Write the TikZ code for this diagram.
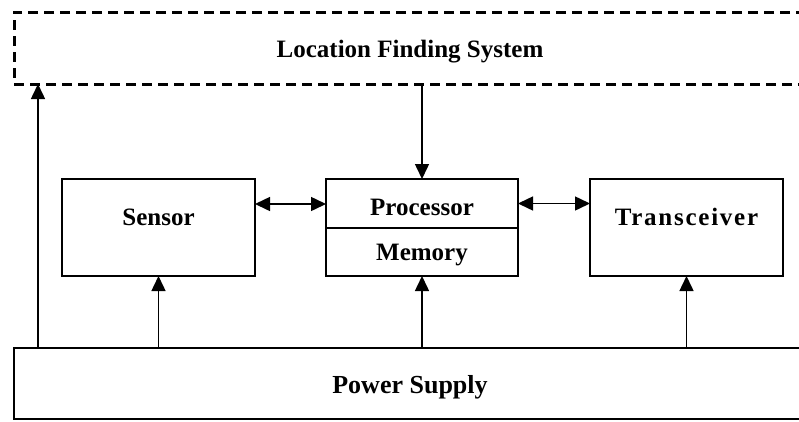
\documentclass[tikz,border=0pt]{standalone}
\usepackage{fontspec}
\setmainfont{Liberation Serif}
\usetikzlibrary{arrows.meta,calc}
\begin{document}
\begin{tikzpicture}[x=1pt,y=-1pt,
 box/.style={draw,line width=1.8pt,minimum width=193pt,minimum height=97pt,inner sep=0pt,outer sep=0pt},
 lbl/.style={font=\fontsize{25}{30}\selectfont\bfseries,inner sep=0pt,anchor=base},
 arr/.style={-{Triangle[length=15pt,width=14pt]},line width=1.5pt},
 darr/.style={{Triangle[length=15pt,width=14pt]}-{Triangle[length=15pt,width=14pt]},line width=1.5pt}]
\clip (0,0) rectangle (799,421);
\node[draw,dash pattern=on 10pt off 6pt,line width=3pt,minimum width=792pt,minimum height=72pt,inner sep=0pt,outer sep=0pt] (lfs) at (410,48) {};
\node[box] (sensor) at (158.5,227.5) {};
\node[box,minimum width=192pt,minimum height=49pt] (proc) at (422,203.5) {};
\node[box,minimum width=192pt,minimum height=48pt] (mem) at (422,252) {};
\node[box] (trans) at (686.5,227.5) {};
\node[box,minimum width=792pt,minimum height=71pt] (ps) at (410,383.5) {};
\node[lbl] at ($(lfs.north)+(0,45)$) {Location Finding System};
\node[lbl] at ($(sensor.north)+(0,46)$) {Sensor};
\node[lbl] at ($(proc.north)+(0,36)$) {Processor};
\node[lbl] at ($(mem.north)+(0,32)$) {Memory};
\node[lbl] at ($(trans.north)+(0,46)$) {\addfontfeatures{LetterSpace=7}Transceiver};
\node[lbl,font=\fontsize{26}{30}\selectfont\bfseries] at ($(ps.north)+(0,45)$) {Power Supply};
\coordinate (lfsin) at ($(ps.north west)+(24,0)$);
\draw[arr] (lfs.south -| proc.north) -- (proc.north);
\draw[darr] ($(sensor.north east)+(0,25)$) -- ($(proc.north west)+(0,25)$);
\draw[darr] (proc.east) -- (trans.west |- proc.east);
\draw[arr] (ps.north -| sensor.south) -- (sensor.south);
\draw[arr] (ps.north -| mem.south) -- (mem.south);
\draw[arr] (ps.north -| trans.south) -- (trans.south);
\draw[arr] (lfsin) -- (lfs.south -| lfsin);
\end{tikzpicture}
\end{document}
